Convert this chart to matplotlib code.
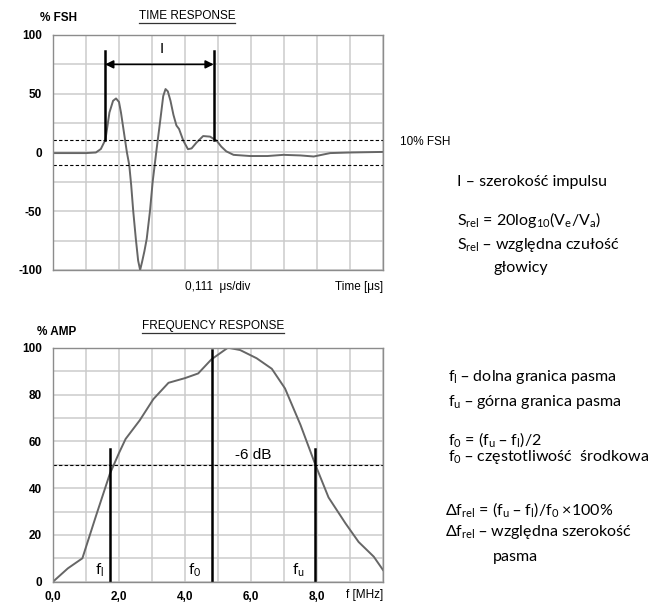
import matplotlib
matplotlib.use('Agg')
import matplotlib.pyplot as plt
from matplotlib.lines import Line2D

plt.rcParams['font.family'] = ['Liberation Sans', 'DejaVu Sans']
plt.rcParams['mathtext.default'] = 'regular'

# time response, x in divisions (0,111 us/div), y in % FSH
t_div = [0, 0.5, 1.0, 1.3, 1.45, 1.59, 1.71, 1.82, 1.91, 2.0, 2.06, 2.15, 2.24, 2.31, 2.37,
         2.43, 2.51, 2.58, 2.64, 2.7, 2.77, 2.84, 2.94, 3.02, 3.08, 3.14, 3.24, 3.34, 3.41,
         3.48, 3.56, 3.65, 3.74, 3.82, 3.95, 4.09, 4.2, 4.35, 4.55, 4.76, 4.96, 5.1, 5.25,
         5.47, 5.97, 6.5, 6.98, 7.5, 7.9, 8.4, 9.0, 10.0]
t_amp = [-0.5, -0.5, -0.5, 0, 3, 11, 34, 44, 46, 43, 34, 17, 0, -10.5, -28,
         -49.5, -73.5, -92, -100, -93, -84, -73.5, -49.5, -25, -11, 3, 25, 48, 54,
         52, 44, 32, 23, 20, 10, 2.8, 3.5, 8.5, 14, 13.5, 10, 5, 1,
         -2, -3, -3, -2, -2.5, -3.4, -0.5, 0, 0.5]
fsh_level = 11
pulse_lo, pulse_hi = 1.58, 4.87

# frequency response
f_mhz = [0.0, 0.45, 0.89, 1.3, 1.72, 2.0, 2.2, 2.63, 3.04, 3.5, 4.0, 4.4, 4.8, 5.3, 5.67,
         6.17, 6.63, 7.03, 7.5, 7.95, 8.35, 8.86, 9.26, 9.72, 10.0]
f_amp = [0, 5.7, 10, 28, 46, 55, 61, 69, 78, 85, 87, 89, 95, 100, 99,
         95.5, 91, 82.6, 67, 50, 36, 25, 17, 10.7, 5]
f_lo, f_0, f_hi = 1.72, 4.81, 7.93
db6_level = 50

W, H = 657, 602
fig = plt.figure(figsize=(W / 100, H / 100), dpi=100)

def px(x, y):
    return x / W, 1 - y / H

grid_c = '#cbcbcb'
spine_c = '#8c8c8c'
curve_c = '#666666'
side = ['Lato', 'DejaVu Sans']
cap = 8.5

def style_ax(ax):
    ax.grid(True, color=grid_c, lw=1.1)
    ax.set_axisbelow(True)
    for s in ax.spines.values():
        s.set_color(spine_c)
        s.set_linewidth(1.0)
    ax.tick_params(axis='y', length=0, pad=8, labelsize=8.5)
    ax.tick_params(axis='x', length=0, pad=7, labelsize=8.5)
    for lab in ax.get_xticklabels() + ax.get_yticklabels():
        lab.set_fontweight('bold')

# ---- time response ----
ax1 = fig.add_axes([53 / W, 1 - 270 / H, 330 / W, 235 / H])
ax1.plot(t_div, t_amp, color=curve_c, lw=1.4)
ax1.set_xlim(0, 10)
ax1.set_ylim(-100, 100)
ax1.set_xticks(range(11))
ax1.set_xticklabels([])
ax1.set_yticks(range(-100, 101, 25))
ax1.set_yticklabels(['-100', '', '-50', '', '0', '', '50', '', '100'])
style_ax(ax1)
ax1.axhline(fsh_level, color='k', ls='--', lw=0.8, dashes=(3, 2))
ax1.axhline(-fsh_level, color='k', ls='--', lw=0.8, dashes=(3, 2))
ax1.plot([pulse_lo, pulse_lo], [fsh_level, 86], color='k', lw=1.8)
ax1.plot([pulse_hi, pulse_hi], [fsh_level, 86], color='k', lw=1.8)
ax1.annotate('', xy=(pulse_lo, 75), xytext=(pulse_hi, 75),
             arrowprops=dict(arrowstyle='<|-|>', color='k', lw=1.2, mutation_scale=12,
                             shrinkA=0, shrinkB=0))
ax1.text(3.31, 88, 'I', ha='center', va='center', fontsize=11)

# ---- frequency response ----
ax2 = fig.add_axes([53 / W, 1 - 581.7 / H, 330 / W, 234 / H])
ax2.plot(f_mhz, f_amp, color=curve_c, lw=1.4)
ax2.set_xlim(0, 10)
ax2.set_ylim(0, 100)
ax2.set_xticks(range(11))
ax2.set_xticklabels(['0,0', '', '2,0', '', '4,0', '', '6,0', '', '8,0', '', ''])
ax2.set_yticks(range(0, 101, 10))
ax2.set_yticklabels(['0', '', '20', '', '40', '', '60', '', '80', '', '100'])
style_ax(ax2)
ax2.axhline(db6_level, color='k', ls='--', lw=0.8, dashes=(3, 2))
ax2.plot([f_lo, f_lo], [0, 56.5], color='k', lw=1.8)
ax2.plot([f_0, f_0], [0, 99], color='k', lw=1.8)
ax2.plot([f_hi, f_hi], [0, 56.5], color='k', lw=1.8)
ax2.text(1.4, 5, '$f_l$', ha='center', va='center', fontsize=11, family=side)
ax2.text(4.28, 5, '$f_0$', ha='center', va='center', fontsize=11, family=side)
ax2.text(7.45, 5, '$f_u$', ha='center', va='center', fontsize=11, family=side)
ax2.text(6.08, 54, '-6 dB', ha='center', va='center', fontsize=11)

# ---- axis captions ----
fig.text(*px(40, 18), '% FSH', fontsize=cap, fontweight='bold', va='center')
fig.text(*px(37, 332), '% AMP', fontsize=cap, fontweight='bold', va='center')
t1 = fig.text(*px(187, 16), 'TIME RESPONSE', fontsize=cap, ha='center', va='center')
t2 = fig.text(*px(213, 326), 'FREQUENCY RESPONSE', fontsize=cap, ha='center', va='center')
fig.text(*px(185, 287), '0,111  μs/div', fontsize=cap, va='center')
fig.text(*px(383, 287), 'Time [μs]', fontsize=cap, ha='right', va='center')
fig.text(*px(383, 595), 'f [MHz]', fontsize=cap, ha='right', va='center')
fig.text(*px(400, 142), '10% FSH', fontsize=cap, va='center')

# underline the titles
fig.canvas.draw()
r = fig.canvas.get_renderer()
for t in (t1, t2):
    bb = t.get_window_extent(r).transformed(fig.transFigure.inverted())
    y = bb.y0 - 1.0 / H
    fig.add_artist(Line2D([bb.x0, bb.x1], [y, y], transform=fig.transFigure,
                          color='#333333', lw=0.9))

# ---- side notes ----
fs = 11.5
fig.text(*px(457, 182), 'I – szerokość impulsu', fontsize=fs, family=side, va='center')
fig.text(*px(457, 220), '$S_{rel}$ = 20log$_{10}$($V_e$/$V_a$)', fontsize=fs, family=side, va='center')
fig.text(*px(457, 245), '$S_{rel}$ – względna czułość', fontsize=fs, family=side, va='center')
fig.text(*px(493, 268), 'głowicy', fontsize=fs, family=side, va='center')

fig.text(*px(448, 377), '$f_l$ – dolna granica pasma', fontsize=fs, family=side, va='center')
fig.text(*px(448, 402), '$f_u$ – górna granica pasma', fontsize=fs, family=side, va='center')
fig.text(*px(448, 440), '$f_0$ = ($f_u$ – $f_l$)/2', fontsize=fs, family=side, va='center')
fig.text(*px(448, 457), '$f_0$ – częstotliwość  środkowa', fontsize=fs, family=side, va='center')
fig.text(*px(445, 510), 'Δ$f_{rel}$ = ($f_u$ – $f_l$)/$f_0$ ×100%', fontsize=fs, family=side, va='center')
fig.text(*px(445, 532), 'Δ$f_{rel}$ – względna szerokość', fontsize=fs, family=side, va='center')
fig.text(*px(493, 557), 'pasma', fontsize=fs, family=side, va='center')

fig.savefig('out.png', dpi=100)
